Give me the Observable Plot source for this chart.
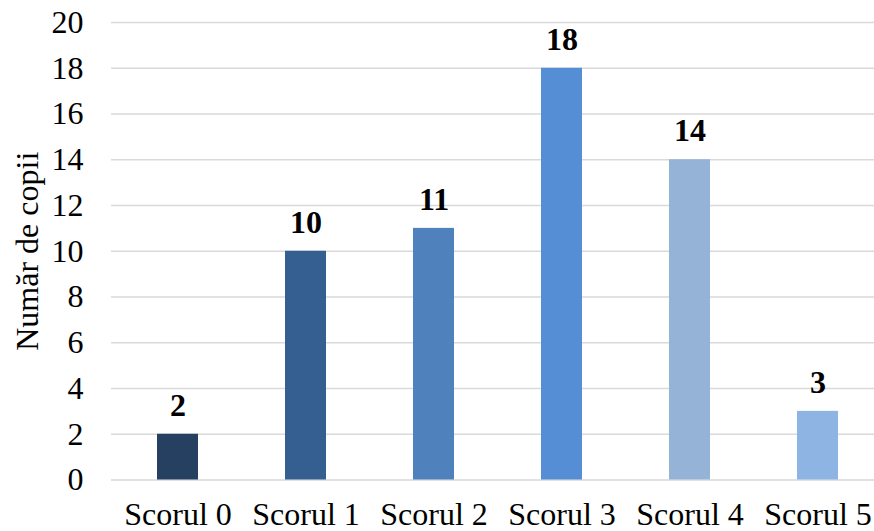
<!DOCTYPE html>
<html>
<head>
<meta charset="utf-8">
<script src="https://cdn.jsdelivr.net/npm/d3@7"></script>
<script src="https://cdn.jsdelivr.net/npm/@observablehq/plot@0.6"></script>
<style>
  html, body { margin: 0; padding: 0; background: #fff; }
  #chart svg { display: block; }
</style>
</head>
<body>
<div id="chart"></div>
<script>
// Number of children per score
const categories = ["Scorul 0", "Scorul 1", "Scorul 2", "Scorul 3", "Scorul 4", "Scorul 5"];
const counts = [2, 10, 11, 18, 14, 3];
const yTicks = [0, 2, 4, 6, 8, 10, 12, 14, 16, 18, 20];
const palette = ["#264061", "#365F91", "#4F81BD", "#558ED5", "#95B3D7", "#8EB4E3"];
const yTitle = "Număr de copii";

const rows = categories.map((c, i) => ({category: c, count: counts[i]}));
const font = "'Liberation Serif', 'Times New Roman', serif";

const chart = Plot.plot({
  width: 874,
  height: 531,
  marginLeft: 111,
  marginRight: 0,
  marginTop: 22,
  marginBottom: 51.5,
  style: {fontFamily: font, fontSize: "32px", color: "#000", background: "#fff"},
  x: {domain: categories, range: [111, 883], paddingInner: 0.68, paddingOuter: 0.34, label: null},
  y: {domain: [0, 20], label: null},
  color: {domain: categories, range: palette},
  marks: [
    Plot.gridY(yTicks, {stroke: "#d9d9d9", strokeOpacity: 1, strokeWidth: 1.5}),
    Plot.barY(rows, {x: "category", y: "count", fill: "category"}),
    Plot.text(rows, {
      x: "category", y: "count", text: d => String(d.count),
      dy: -29, fontSize: 32, fontWeight: "bold", fill: "#000"
    }),
    Plot.axisY(yTicks, {tickSize: 0, tickPadding: 28, label: null, fontSize: 32}),
    Plot.axisX({tickSize: 0, tickPadding: 22, label: null, fontSize: 32}),
    Plot.text([yTitle], {
      frameAnchor: "left", textAnchor: "middle", dx: -84, rotate: -90,
      text: d => d, fontSize: 32, fill: "#000"
    })
  ]
});

document.getElementById("chart").appendChild(chart);
</script>
</body>
</html>
